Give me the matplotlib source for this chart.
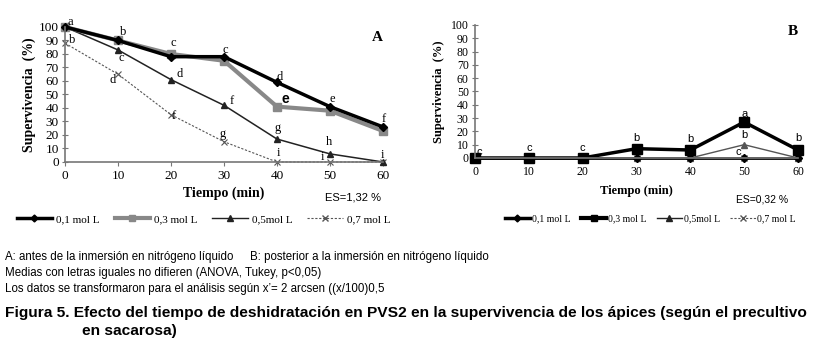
import matplotlib
matplotlib.use("Agg")
import matplotlib.pyplot as plt
from matplotlib.lines import Line2D

tiempo = [0, 10, 20, 30, 40, 50, 60]
series_names = ["0,1 mol L", "0,3 mol L", "0,5mol L", "0,7 mol L"]

# panel A: antes de la inmersion
a_01 = [100, 90, 78, 78, 59, 41, 26]
a_03 = [100, 90, 80, 75, 41, 38, 23]
a_05 = [100, 83, 61, 42, 17, 6, 0]
a_07 = [88, 65, 35, 15, 0, 0, 0]
a_01_let = ["a", "b", "c", "c", "d", "e", "f"]
a_05_let = ["", "c", "d", "f", "g", "h", "i"]
a_07_let = ["b", "d", "f", "g", "i", "i", ""]

# panel B: posterior a la inmersion
b_01 = [0, 0, 0, 0, 0, 0, 0]
b_03 = [0, 0, 0, 7, 6, 27, 6]
b_05 = [0, 0, 0, 0, 0, 10, 0]
b_07 = [0, 0, 0, 0, 0, 0, 0]
b_03_let = ["c", "c", "c", "b", "b", "a", "b"]

# offsets of the letters from their points (x units, y units)
off_a01 = [(1, 4), (1, 6), (0.5, 10), (0.3, 5), (0.5, 4), (0.4, 6), (0.2, 6)]
off_a05 = [(0, 0), (0.6, -6), (1.6, 4), (1.4, 3), (0.2, 8), (-0.2, 9), (0, 5)]
off_a07 = [(1.3, 2), (-1, -4), (0.6, -1), (-0.2, 6), (0.2, 6.5), (-1.5, 4), (0, 0)]
off_b03 = [(0.8, 4.5), (0, 7.5), (0, 7.5), (0, 8), (0, 8), (0, 6), (0, 9)]

serif = "Liberation Serif"
sans = "Liberation Sans"

fig = plt.figure(figsize=(8.2, 3.51), dpi=100)
axA = fig.add_axes([0.0793, 0.5385, 0.3877, 0.3846])
axB = fig.add_axes([0.5793, 0.5499, 0.3939, 0.3789])

for ax in (axA, axB):
    ax.set_xlim(0, 60)
    ax.set_ylim(0, 100)
    ax.set_xticks(tiempo)
    ax.set_yticks(range(0, 101, 10))
    for s in ["top", "right"]:
        ax.spines[s].set_visible(False)
    for s in ["left", "bottom"]:
        ax.spines[s].set_color("#777777")
        ax.spines[s].set_linewidth(1.2)
    ax.tick_params(axis="x", direction="out", length=3, color="#777777", pad=3)
    ax.tick_params(axis="y", direction="inout", length=5, color="#777777", pad=2)
    ax.patch.set_alpha(0)

# ---- A
axA.plot(tiempo, a_07, color="#555555", lw=0.8, ls=(0, (2, 1.5)), marker="x", ms=5, mew=0.8, clip_on=False)
axA.plot(tiempo, a_05, color="#222222", lw=1.1, marker="^", ms=5, clip_on=False)
axA.plot(tiempo, a_03, color="#888888", lw=3, marker="s", ms=6, clip_on=False)
axA.plot(tiempo, a_01, color="black", lw=2.5, marker="D", ms=4, clip_on=False)
for lab in axA.get_xticklabels() + axA.get_yticklabels():
    lab.set_fontfamily(serif)
    lab.set_fontsize(9.5)
axA.set_xlabel("Tiempo (min)", fontfamily=serif, fontweight="bold", fontsize=10, labelpad=3)
axA.set_ylabel("Supervivencia  (%)", fontfamily=serif, fontweight="bold", fontsize=10, labelpad=2)
axA.text(1.0, 0.97, "A", transform=axA.transAxes, fontfamily=serif, fontweight="bold",
         fontsize=11, ha="right", va="top")

for i, t in enumerate(tiempo):
    dx, dy = off_a01[i]
    axA.text(t + dx, a_01[i] + dy, a_01_let[i], fontfamily=serif, fontsize=9, ha="center", va="center")
    if a_05_let[i]:
        dx, dy = off_a05[i]
        axA.text(t + dx, a_05[i] + dy, a_05_let[i], fontfamily=serif, fontsize=9, ha="center", va="center")
    if a_07_let[i]:
        dx, dy = off_a07[i]
        axA.text(t + dx, a_07[i] + dy, a_07_let[i], fontfamily=serif, fontsize=9, ha="center", va="center")
axA.text(41.5, 47, "e", fontfamily=sans, fontweight="bold", fontsize=10, ha="center", va="center")
axA.text(49, -26, "ES=1,32 %", fontfamily=sans, fontsize=8, ha="left", va="center")

# ---- B
axB.plot(tiempo, b_07, color="#555555", lw=0.8, ls=(0, (2, 1.5)), marker="x", ms=4, clip_on=False)
axB.plot(tiempo, b_05, color="#555555", lw=1.0, marker="^", ms=4, clip_on=False)
axB.plot(tiempo, b_01, color="black", lw=2, marker="D", ms=4, clip_on=False)
axB.plot(tiempo, b_03, color="black", lw=2.5, marker="s", ms=7, clip_on=False)
for lab in axB.get_xticklabels() + axB.get_yticklabels():
    lab.set_fontfamily(serif)
    lab.set_fontsize(8.5)
axB.set_xlabel("Tiempo (min)", fontfamily=serif, fontweight="bold", fontsize=9, labelpad=5)
axB.set_ylabel("Supervivencia  (%)", fontfamily=serif, fontweight="bold", fontsize=9, labelpad=4)
axB.text(1.0, 1.0, "B", transform=axB.transAxes, fontfamily=serif, fontweight="bold",
         fontsize=11, ha="right", va="top")
for i, t in enumerate(tiempo):
    dx, dy = off_b03[i]
    axB.text(t + dx, b_03[i] + dy, b_03_let[i], fontfamily=sans, fontsize=8, ha="center", va="center")
axB.text(50, b_05[5] + 7, "b", fontfamily=sans, fontsize=8, ha="center", va="center")
axB.text(49, b_01[5] + 4.5, "c", fontfamily=sans, fontsize=8, ha="center", va="center")
axB.text(48.5, -31, "ES=0,32 %", fontfamily=sans, fontsize=7.5, ha="left", va="center")

# legends
def handles(square_color):
    return [
        Line2D([], [], color="black", lw=2.5, marker="D", ms=3.5),
        Line2D([], [], color=square_color, lw=3, marker="s", ms=5),
        Line2D([], [], color="#222222", lw=1, marker="^", ms=4),
        Line2D([], [], color="#555555", lw=0.8, ls=(0, (2, 1.5)), marker="x", ms=4),
    ]

fig.legend(handles("#888888"), series_names, loc="center left", bbox_to_anchor=(0.008, 0.376),
           ncol=4, frameon=False, handlelength=3.2, handletextpad=0.35, columnspacing=1.35,
           prop={"family": serif, "size": 8})
fig.legend(handles("black"), series_names, loc="center left", bbox_to_anchor=(0.605, 0.376),
           ncol=4, frameon=False, handlelength=2.6, handletextpad=0.15, columnspacing=1.1,
           prop={"family": serif, "size": 7})

# caption
fig.text(0.006, 1 - 257 / 351, "A: antes de la inmersión en nitrógeno líquido", fontfamily=sans,
         fontsize=8.3, va="center")
fig.text(0.305, 1 - 257 / 351, "B: posterior a la inmersión en nitrógeno líquido", fontfamily=sans,
         fontsize=8.3, va="center")
fig.text(0.006, 1 - 273 / 351, "Medias con letras iguales no difieren (ANOVA, Tukey, p<0,05)", fontfamily=sans,
         fontsize=8.3, va="center")
fig.text(0.006, 1 - 289 / 351, "Los datos se transformaron para el análisis según x’= 2 arcsen ((x/100)0,5",
         fontfamily=sans, fontsize=8.3, va="center")
fig.text(0.006, 1 - 313 / 351, "Figura 5. Efecto del tiempo de deshidratación en PVS2 en la supervivencia de los ápices (según el precultivo",
         fontfamily=sans, fontweight="bold", fontsize=11.15, va="center")
fig.text(0.1, 1 - 331 / 351, "en sacarosa)", fontfamily=sans, fontweight="bold", fontsize=11.15, va="center")

fig.savefig("out.png", dpi=100)
